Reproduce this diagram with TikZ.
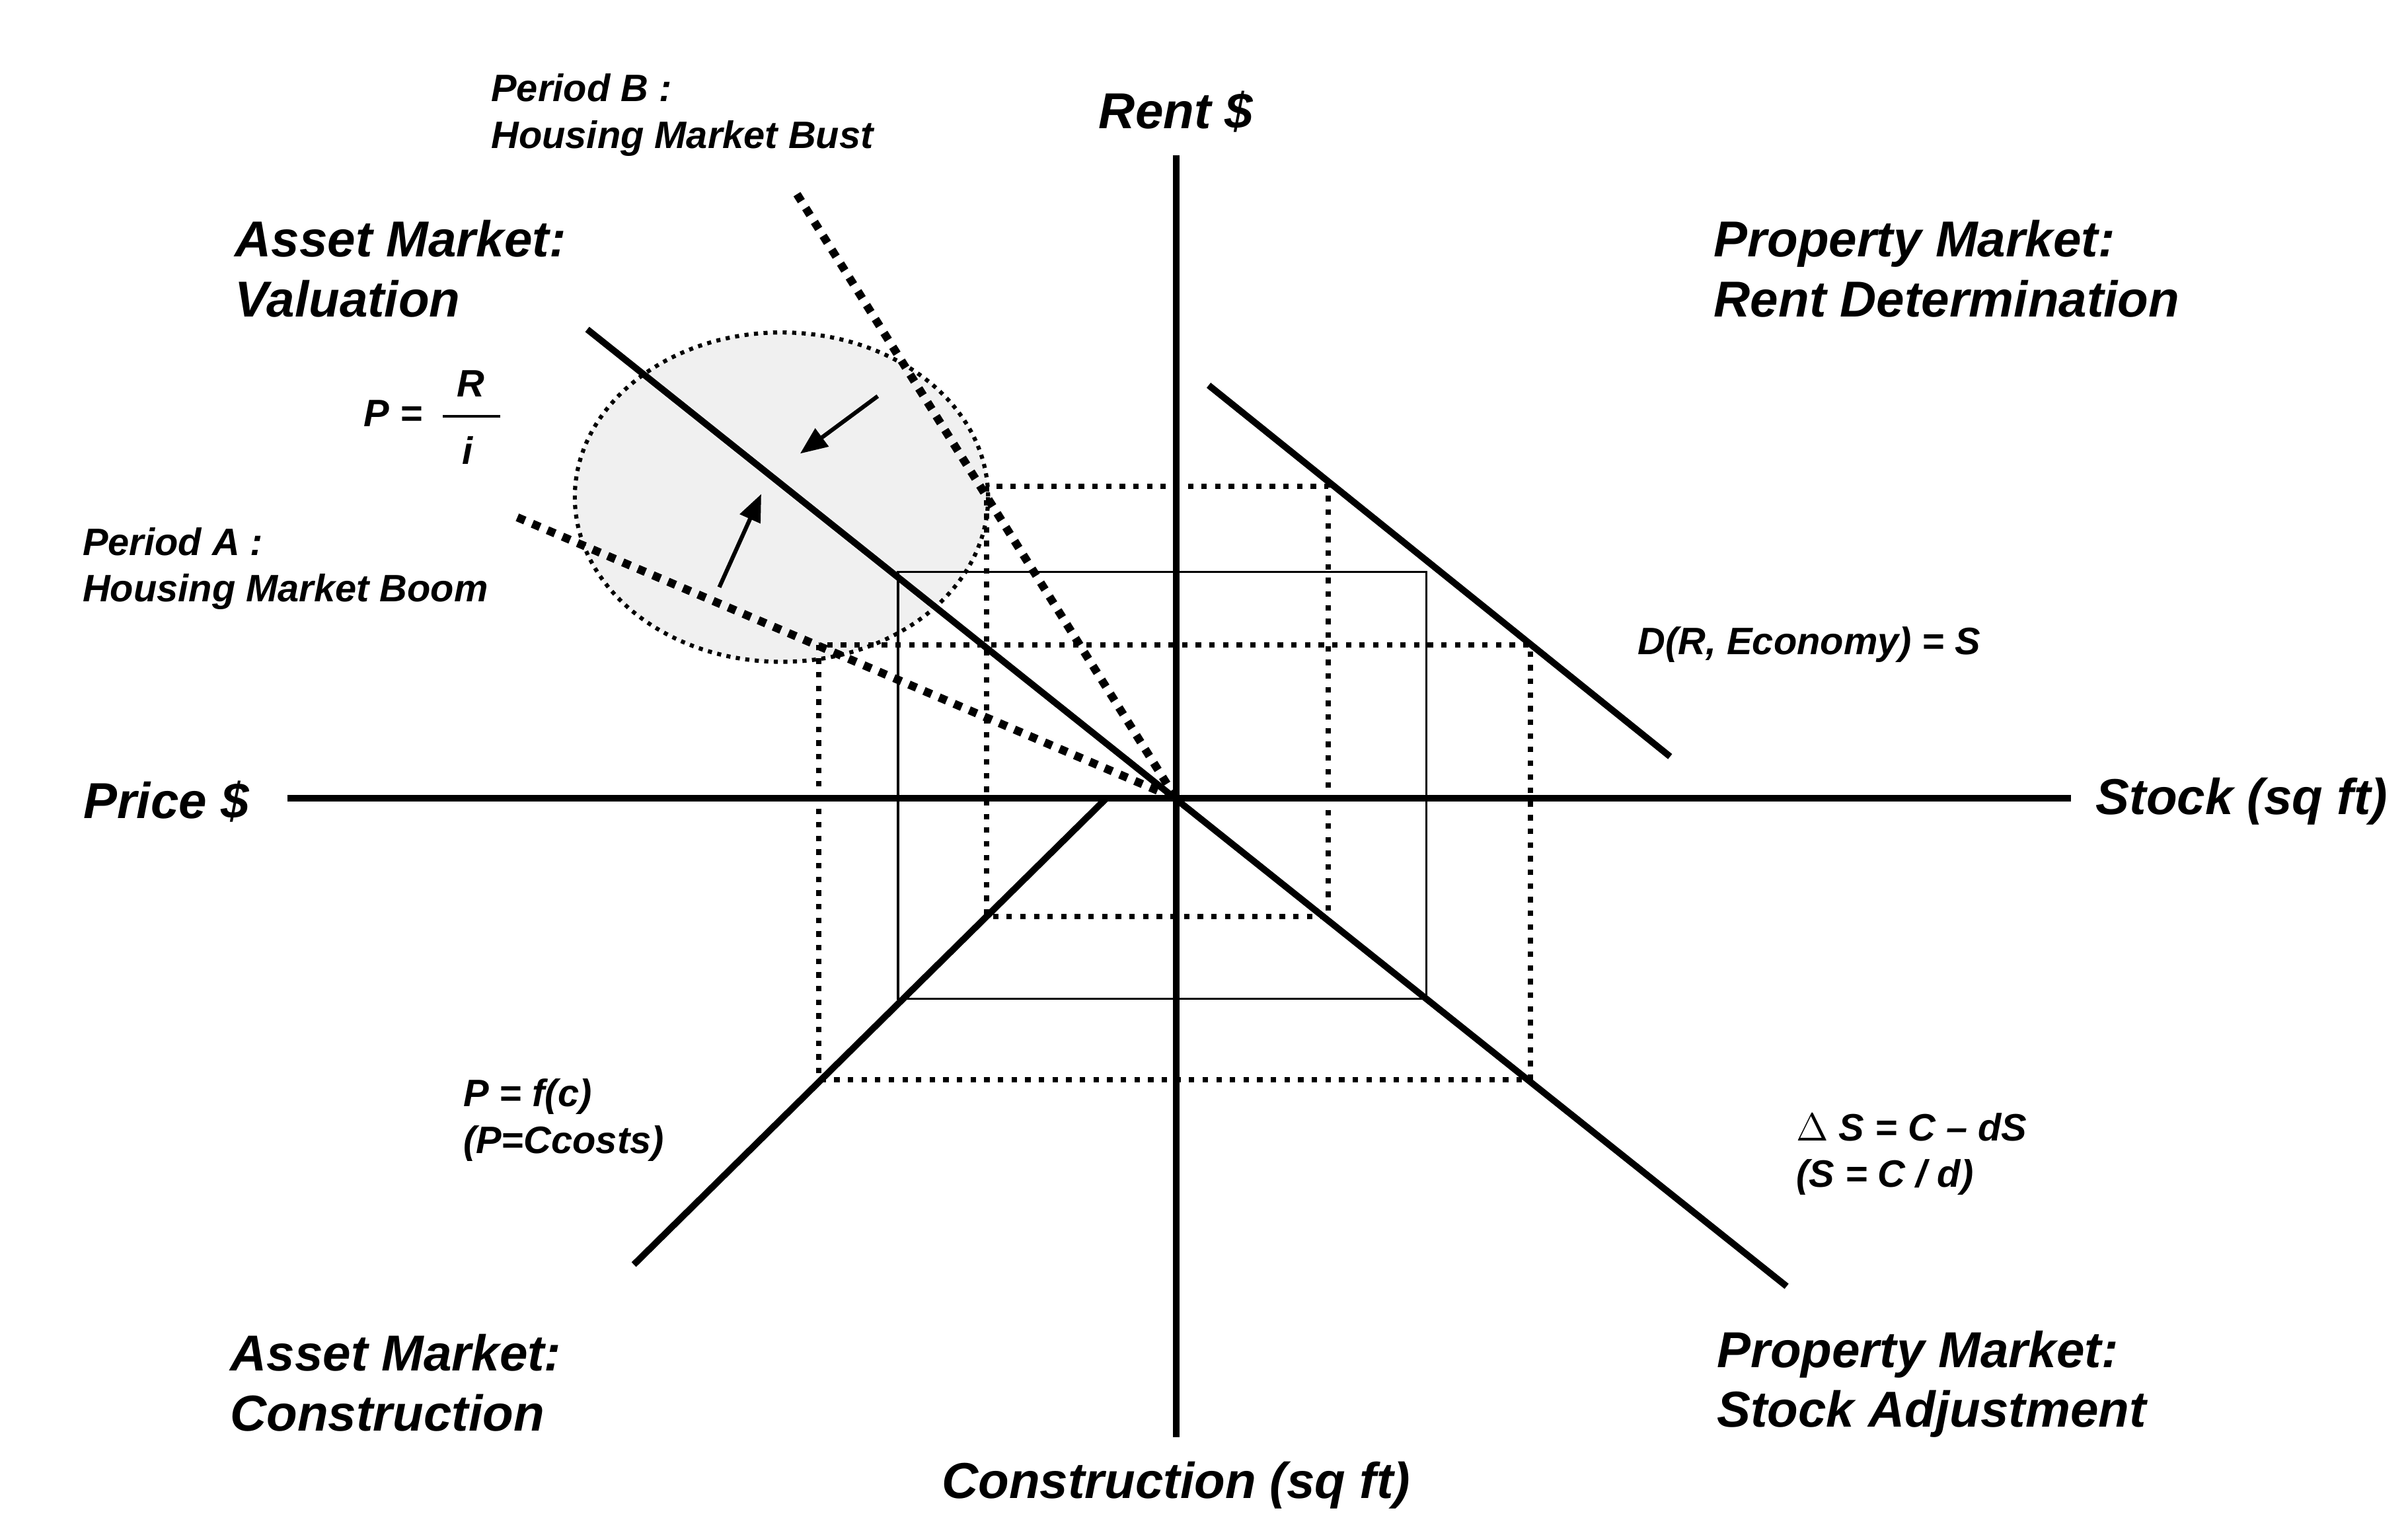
\documentclass[tikz,border=0pt]{standalone}
\usepackage{fontspec}
\setmainfont{Liberation Sans}
\usetikzlibrary{arrows.meta}
\begin{document}
\begin{tikzpicture}[x=0.02cm,y=-0.02cm,
 thick line/.style={line width=2.4pt},
 dot line/.style={line width=3pt,dash pattern=on 3pt off 3pt},
 big/.style={font=\fontsize{18.5}{22}\selectfont\bfseries\itshape,align=left,anchor=west},
 small/.style={font=\fontsize{14}{17}\selectfont\bfseries\itshape,align=left,anchor=west}]
\useasboundingbox (0,0) rectangle (1550,988);
\fill[gray!12] (503,320) ellipse [x radius=133,y radius=106];
\draw[line width=1.5pt,dotted] (503,320) ellipse [x radius=133,y radius=106];
\coordinate (O) at (757,514);
\coordinate (xl) at (185,514); \coordinate (xr) at (1333,514);
\coordinate (yt) at (757,100); \coordinate (yb) at (757,925);
\draw[thick line] (xl)--(xr);
\draw[thick line] (yt)--(yb);
\coordinate (v1) at (378,212); \coordinate (v2) at (1150,828);
\draw[thick line] (v1)--(v2);
\coordinate (c1) at (408,814); \coordinate (c2) at (712,514);
\draw[thick line] (c1)--(c2);
\coordinate (d1) at (778,248); \coordinate (d2) at (1075,487);
\draw[thick line] (d1)--(d2);
\coordinate (pb) at (513,125); \coordinate (pa) at (333,333);
\draw[dot line] (pb)--(O);
\draw[dot line] (pa)--(O);
\draw[line width=0.8pt] (578,368) rectangle (918,643);
\draw[line width=2pt,dash pattern=on 2pt off 3pt] (527,415) rectangle (985,695);
\draw[line width=2pt,dash pattern=on 2pt off 3pt] (635,313) rectangle (855,590);
\coordinate (a1) at (565,255); \coordinate (a2) at (515,292);
\coordinate (b1) at (463,378); \coordinate (b2) at (490,318);
\draw[line width=1.5pt,-{Triangle[length=10pt,width=8pt]}] (a1)--(a2);
\draw[line width=1.5pt,-{Triangle[length=10pt,width=8pt]}] (b1)--(b2);
\node[big,anchor=center] (rent) at (757,72) {Rent \$};
\node[big,anchor=center] (price) at (107,516) {Price \$};
\node[big,anchor=center] (stock) at (1443,516) {Stock (sq ft)};
\node[big,anchor=center] (cons) at (757,956) {Construction (sq ft)};
\node[small] (perB) at (310,74) {Period B :\\ Housing Market Bust};
\node[small] (perA) at (47,366) {Period A :\\ Housing Market Boom};
\node[big] (amv) at (145,173) {Asset Market:\\ Valuation};
\node[big] (pmr) at (1097,173) {Property Market:\\ Rent Determination};
\node[big] (amc) at (142,890) {Asset Market:\\ Construction};
\node[big] (pms) at (1099,891) {Property Market:\\ Stock Adjustment};
\node[small] (peq) at (228,266) {P =};
\node[small,anchor=center] (rr) at (303,247) {R};
\node[small,anchor=center] (ii) at (301,290) {i};
\draw[line width=1pt] (285,268)--(322,268);
\node[small] (dr) at (1048,415) {D(R, Economy) = S};
\node[small] (pf) at (292,721) {P = f(c)\\(P=Ccosts)};
\node[small] (ds) at (1150,743) {$\Delta$ S = C – dS\\(S = C / d)};
\end{tikzpicture}
\end{document}
